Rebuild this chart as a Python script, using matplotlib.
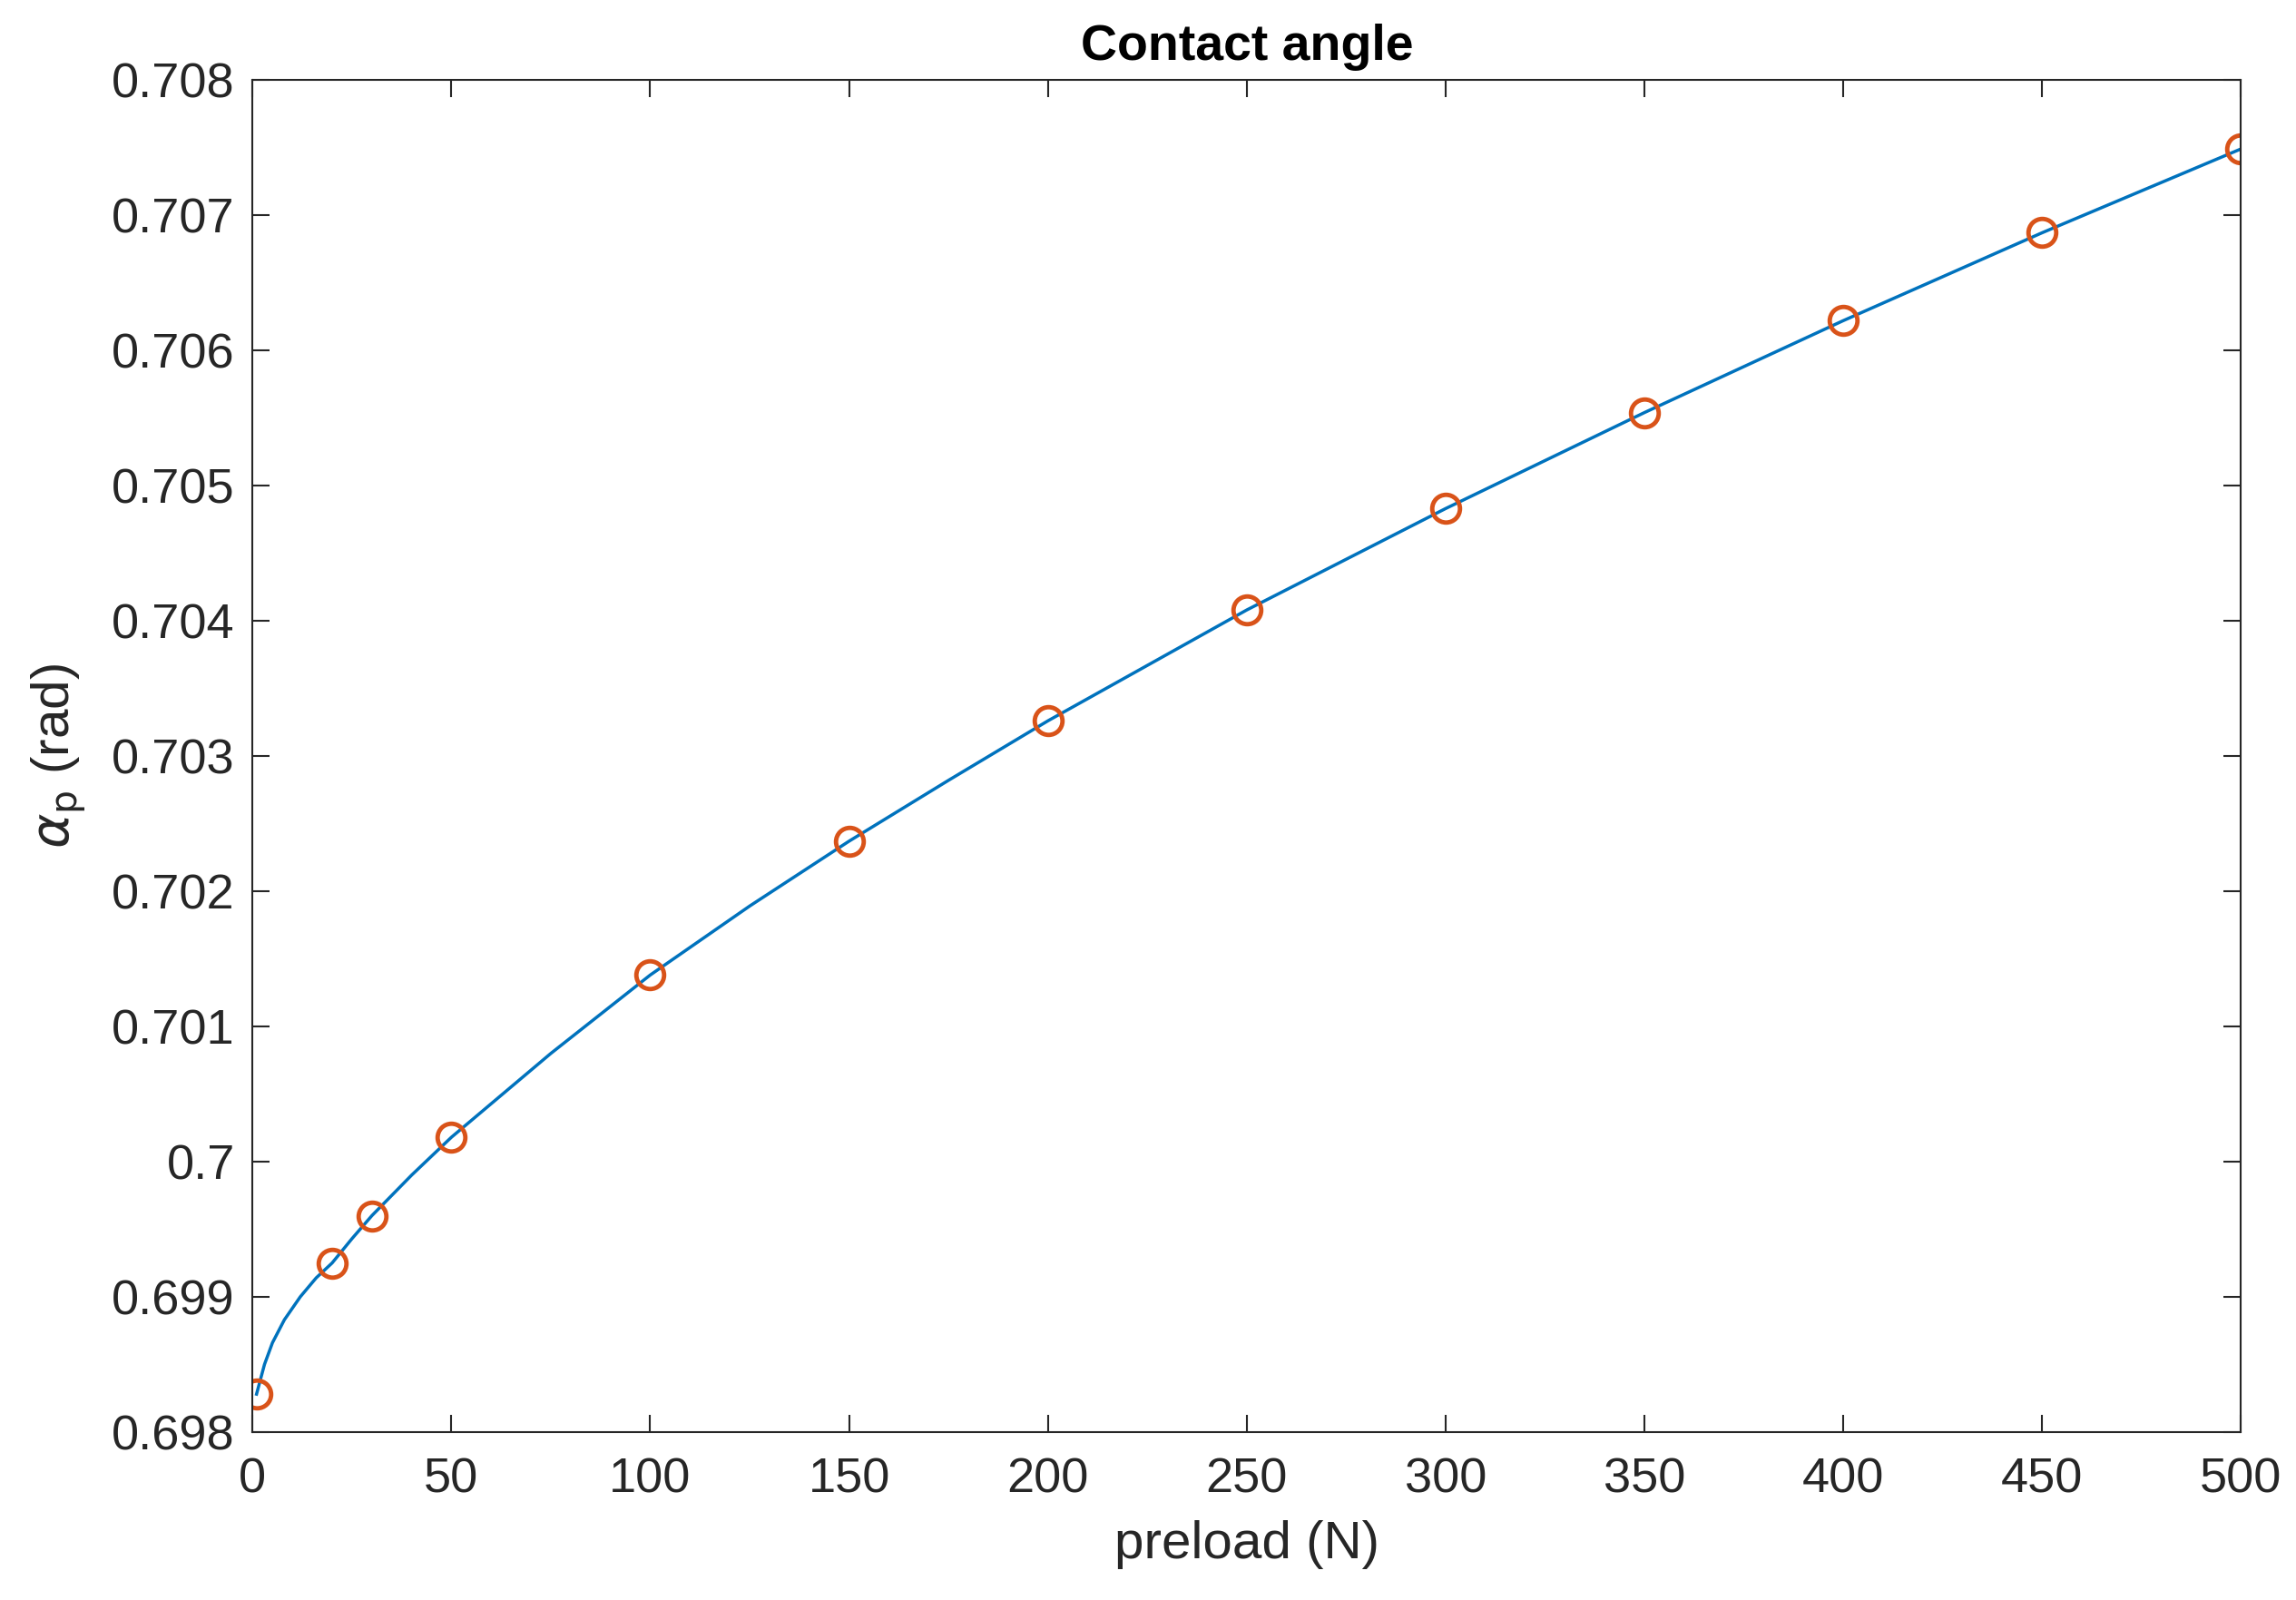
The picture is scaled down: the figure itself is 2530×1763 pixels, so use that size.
import matplotlib
matplotlib.use("Agg")
import matplotlib.pyplot as plt

# marker points
preload = [1, 20, 30, 50, 100, 150, 200, 250, 300, 350, 400, 450, 500]
alpha_p = [0.69828, 0.69925, 0.69960, 0.70018, 0.70138, 0.70237, 0.70326,
           0.70408, 0.70483, 0.70554, 0.70622, 0.70687, 0.70749]

# denser readings of the smooth curve
curve_x = [1, 3, 5, 8, 12, 16, 20, 25, 30, 40, 50, 75, 100, 125, 150, 175,
           200, 250, 300, 350, 400, 450, 500]
curve_y = [0.69828, 0.69850, 0.69866, 0.69883, 0.69900, 0.69914, 0.69925,
           0.69943, 0.69960, 0.69990, 0.70018, 0.70080, 0.70138, 0.70189,
           0.70237, 0.70282, 0.70326, 0.70408, 0.70483, 0.70554, 0.70622,
           0.70687, 0.70749]

plt.rcParams['font.family'] = ['Liberation Sans', 'DejaVu Sans']

fig = plt.figure(figsize=(25.3, 17.63), dpi=100)
ax = fig.add_axes([0.110, 0.105, 0.866, 0.845])

ax.plot(curve_x, curve_y, color='#0072BD', linewidth=2.5)
ax.plot(preload, alpha_p, 'o', markersize=22, markerfacecolor='none',
        markeredgecolor='#D95319', markeredgewidth=3.5)

ax.set_xlim(0, 500)
ax.set_ylim(0.698, 0.708)
ax.set_xticks(range(0, 501, 50))
ax.set_yticks([0.698 + 0.001 * i for i in range(11)])
ax.set_yticklabels(['0.698', '0.699', '0.7', '0.701', '0.702', '0.703',
                    '0.704', '0.705', '0.706', '0.707', '0.708'])
ax.tick_params(direction='in', length=14, width=1.5, labelsize=39,
               top=True, right=True, colors='#262626')
ax.tick_params(axis='x', pad=20)
ax.tick_params(axis='y', pad=14)
for s in ax.spines.values():
    s.set_linewidth(1.5)
    s.set_color('#262626')

ax.set_xlabel('preload (N)', fontsize=42, color='#262626', labelpad=14)
ax.set_ylabel(r'$\alpha_\mathrm{p}$ (rad)', fontsize=42, color='#262626',
              labelpad=18)
ax.set_title('Contact angle', fontsize=40, fontweight='bold', pad=16)

fig.savefig('out.png', dpi=100)
